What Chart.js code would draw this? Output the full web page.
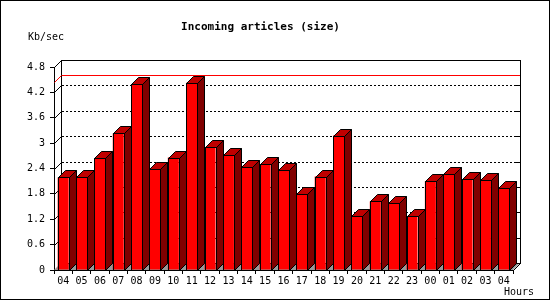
<!DOCTYPE html>
<html>
<head>
<meta charset="utf-8">
<script src="https://cdn.jsdelivr.net/npm/chart.js@4.4.0/dist/chart.umd.min.js"></script>
<style>
  html, body { margin: 0; padding: 0; background: #fff; }
</style>
</head>
<body>
<canvas id="articlesChart" width="550" height="300"></canvas>
<script>
// Data
const hours = ['04', '05', '06', '07', '08', '09', '10', '11', '12', '13', '14', '15', '16',
  '17', '18', '19', '20', '21', '22', '23', '00', '01', '02', '03', '04'];
const kbPerSec = [2.19, 2.19, 2.64, 3.23, 4.39, 2.40, 2.66, 4.43, 2.90, 2.71, 2.43, 2.50, 2.36,
  1.79, 2.21, 3.18, 1.27, 1.62, 1.58, 1.27, 2.10, 2.26, 2.14, 2.12, 1.93];
const yTickValues = [0, 0.6, 1.2, 1.8, 2.4, 3, 3.6, 4.2, 4.8];
const maxLine = 4.45;

const titleText = 'Incoming articles (size)';
const yUnit = 'Kb/sec';
const xUnit = 'Hours';

const depth = 7;
const mono = '"DejaVu Sans Mono", monospace';

function line(ctx, x1, y1, x2, y2) {
  ctx.beginPath();
  ctx.moveTo(x1, y1);
  ctx.lineTo(x2, y2);
  ctx.stroke();
}

// draws the back wall, floor and the 3D faces of the bars
const box3d = {
  id: 'box3d',
  beforeDatasetsDraw(chart) {
    const { ctx, chartArea: a, scales: { y } } = chart;
    const L = Math.round(a.left), R = Math.round(a.right);
    const T = Math.round(a.top), B = Math.round(a.bottom);
    ctx.save();
    ctx.lineWidth = 1;
    ctx.strokeStyle = '#000';

    // floor
    ctx.fillStyle = '#999999';
    ctx.beginPath();
    ctx.moveTo(L, B);
    ctx.lineTo(R, B);
    ctx.lineTo(R + depth, B - depth);
    ctx.lineTo(L + depth, B - depth);
    ctx.closePath();
    ctx.fill();

    // back wall frame
    ctx.strokeRect(L + depth + 0.5, T - depth + 0.5, R - L, B - T);
    line(ctx, L + 0.5, T + 0.5, L + depth + 0.5, T - depth + 0.5);
    line(ctx, R + 0.5, B + 0.5, R + depth + 0.5, B - depth + 0.5);

    // dotted grid on the back wall
    yTickValues.forEach(v => {
      if (v <= 0 || v >= 4.8) return;
      const py = Math.round(y.getPixelForValue(v)) - depth + 0.5;
      ctx.setLineDash([2, 2]);
      line(ctx, L + depth + 1, py, R + depth, py);
      ctx.setLineDash([]);
      line(ctx, L + 0.5, py + depth, L + depth + 0.5, py);
      line(ctx, R + depth - 5, py, R + depth, py);
    });

    // red max line
    const my = Math.round(y.getPixelForValue(maxLine)) - depth + 0.5;
    ctx.strokeStyle = '#ff0000';
    line(ctx, L + depth + 1, my, R + depth, my);
    line(ctx, L + 0.5, my + depth, L + depth + 0.5, my);
    ctx.restore();
  },
  afterDatasetsDraw(chart) {
    const { ctx } = chart;
    const meta = chart.getDatasetMeta(0);
    ctx.save();
    ctx.lineWidth = 1;
    ctx.strokeStyle = '#000';
    meta.data.forEach(bar => {
      const l = Math.round(bar.x - bar.width / 2) + 0.5;
      const r = Math.round(bar.x + bar.width / 2) + 0.5;
      const t = Math.round(bar.y) + 0.5;
      const b = Math.round(bar.base) + 0.5;
      // side
      ctx.fillStyle = '#800000';
      ctx.beginPath();
      ctx.moveTo(r, t);
      ctx.lineTo(r + depth, t - depth);
      ctx.lineTo(r + depth, b - depth);
      ctx.lineTo(r, b);
      ctx.closePath();
      ctx.fill();
      ctx.stroke();
      // top
      ctx.fillStyle = '#c00000';
      ctx.beginPath();
      ctx.moveTo(l, t);
      ctx.lineTo(l + depth, t - depth);
      ctx.lineTo(r + depth, t - depth);
      ctx.lineTo(r, t);
      ctx.closePath();
      ctx.fill();
      ctx.stroke();
      // front outline
      ctx.strokeRect(l, t, r - l, b - t);
    });
    ctx.restore();
  },
  afterDraw(chart) {
    const { ctx } = chart;
    ctx.save();
    ctx.fillStyle = '#000';
    ctx.textBaseline = 'middle';
    ctx.font = 'bold 11px ' + mono;
    ctx.textAlign = 'center';
    ctx.fillText(titleText, 260.5, 27);
    ctx.font = '10px ' + mono;
    ctx.textAlign = 'left';
    ctx.fillText(yUnit, 28, 37);
    ctx.fillText(xUnit, 504, 292);
    ctx.strokeStyle = '#000';
    ctx.lineWidth = 1;
    ctx.strokeRect(0.5, 0.5, 549, 299);
    ctx.restore();
  }
};

const ctx = document.getElementById('articlesChart').getContext('2d');

new Chart(ctx, {
  type: 'bar',
  data: {
    labels: hours,
    datasets: [{
      data: kbPerSec,
      backgroundColor: '#ff0000',
      borderWidth: 0,
      barPercentage: 0.6,
      categoryPercentage: 1,
    }],
  },
  options: {
    responsive: false,
    animation: false,
    devicePixelRatio: 1,
    layout: { padding: { top: 67, right: 37, left: 0, bottom: 0 } },
    plugins: {
      legend: { display: false },
      tooltip: { enabled: false },
    },
    scales: {
      x: {
        offset: true,
        grid: { offset: true, drawOnChartArea: false, color: '#000', tickLength: 4 },
        border: { color: '#000' },
        ticks: { color: '#000', font: { family: mono, size: 10 }, padding: 1, maxRotation: 0, autoSkip: false },
        afterFit: s => { s.height = 30; },
      },
      y: {
        min: 0,
        max: 4.8,
        afterBuildTicks: s => { s.ticks = yTickValues.map(v => ({ value: v })); },
        grid: { drawOnChartArea: false, color: '#000', tickLength: 4 },
        border: { color: '#000' },
        ticks: { color: '#000', font: { family: mono, size: 10 }, padding: 5, callback: v => String(v) },
        afterFit: s => { s.width = 54; },
      },
    },
  },
  plugins: [box3d],
});
</script>
</body>
</html>
